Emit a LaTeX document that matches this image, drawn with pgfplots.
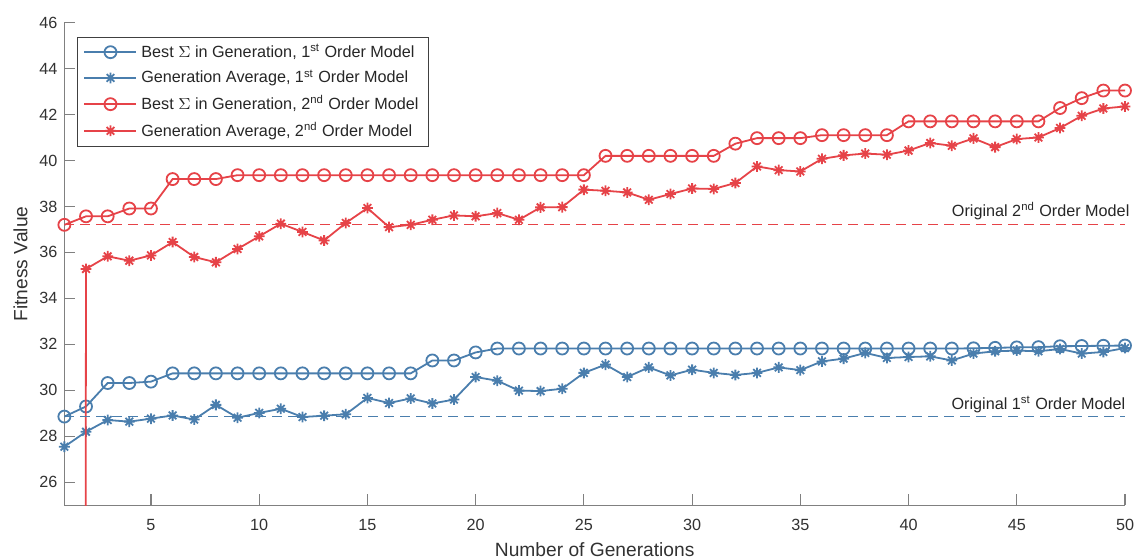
\documentclass[border=0pt]{standalone}
\usepackage{pgfplots}
\pgfplotsset{compat=1.18}
\usepackage{pgfplotstable}
\usetikzlibrary{calc}
\usepackage{fontspec}
\setmainfont{Liberation Sans}
\definecolor{mblue}{RGB}{74,126,173}
\definecolor{mred}{RGB}{230,67,72}
\definecolor{axgray}{RGB}{128,128,128}
\definecolor{txtgray}{RGB}{50,50,50}
\pgfdeclareplotmark{ast8}{%
  \pgfpathmoveto{\pgfqpoint{-\pgfplotmarksize}{0pt}}\pgfpathlineto{\pgfqpoint{\pgfplotmarksize}{0pt}}%
  \pgfpathmoveto{\pgfqpoint{0pt}{-\pgfplotmarksize}}\pgfpathlineto{\pgfqpoint{0pt}{\pgfplotmarksize}}%
  \pgfpathmoveto{\pgfqpoint{-0.7071\pgfplotmarksize}{-0.7071\pgfplotmarksize}}\pgfpathlineto{\pgfqpoint{0.7071\pgfplotmarksize}{0.7071\pgfplotmarksize}}%
  \pgfpathmoveto{\pgfqpoint{-0.7071\pgfplotmarksize}{0.7071\pgfplotmarksize}}\pgfpathlineto{\pgfqpoint{0.7071\pgfplotmarksize}{-0.7071\pgfplotmarksize}}%
  \pgfusepathqstroke}

\pgfplotstableread{
x y
1 28.86
2 29.30
3 30.32
4 30.32
5 30.38
6 30.74
7 30.74
8 30.74
9 30.74
10 30.74
11 30.74
12 30.74
13 30.74
14 30.74
15 30.74
16 30.74
17 30.74
18 31.30
19 31.30
20 31.65
21 31.82
22 31.82
23 31.82
24 31.82
25 31.82
26 31.82
27 31.82
28 31.82
29 31.82
30 31.82
31 31.82
32 31.82
33 31.82
34 31.82
35 31.82
36 31.82
37 31.82
38 31.82
39 31.82
40 31.82
41 31.82
42 31.82
43 31.83
44 31.85
45 31.87
46 31.88
47 31.92
48 31.93
49 31.94
50 31.95
}\bestone

\pgfplotstableread{
x y
1 27.55
2 28.20
3 28.71
4 28.64
5 28.77
6 28.91
7 28.73
8 29.37
9 28.81
10 29.02
11 29.20
12 28.84
13 28.90
14 28.96
15 29.67
16 29.45
17 29.65
18 29.43
19 29.60
20 30.58
21 30.42
22 29.99
23 29.97
24 30.07
25 30.76
26 31.12
27 30.58
28 31.00
29 30.65
30 30.90
31 30.76
32 30.67
33 30.76
34 31.00
35 30.88
36 31.26
37 31.38
38 31.63
39 31.41
40 31.45
41 31.48
42 31.30
43 31.60
44 31.70
45 31.73
46 31.70
47 31.80
48 31.60
49 31.67
50 31.84
}\avgone

\pgfplotstableread{
x y
1 37.20
2 37.57
3 37.57
4 37.91
5 37.91
6 39.19
7 39.19
8 39.19
9 39.36
10 39.36
11 39.36
12 39.36
13 39.36
14 39.36
15 39.36
16 39.36
17 39.36
18 39.36
19 39.36
20 39.36
21 39.36
22 39.36
23 39.36
24 39.36
25 39.36
26 40.20
27 40.20
28 40.20
29 40.20
30 40.20
31 40.20
32 40.73
33 40.97
34 40.97
35 40.97
36 41.10
37 41.10
38 41.10
39 41.10
40 41.70
41 41.70
42 41.70
43 41.70
44 41.70
45 41.70
46 41.70
47 42.28
48 42.71
49 43.04
50 43.04
}\besttwo

\pgfplotstableread{
x y
1 -600
2 35.28
3 35.83
4 35.64
5 35.87
6 36.45
7 35.80
8 35.57
9 36.15
10 36.70
11 37.25
12 36.89
13 36.52
14 37.28
15 37.93
16 37.10
17 37.20
18 37.42
19 37.61
20 37.57
21 37.71
22 37.42
23 37.96
24 37.97
25 38.73
26 38.68
27 38.61
28 38.29
29 38.54
30 38.78
31 38.76
32 39.02
33 39.74
34 39.58
35 39.52
36 40.07
37 40.22
38 40.30
39 40.25
40 40.43
41 40.76
42 40.64
43 40.96
44 40.58
45 40.93
46 41.00
47 41.41
48 41.94
49 42.26
50 42.35
}\avgtwo

\begin{document}
\begin{tikzpicture}
\begin{axis}[
  scale only axis, width=530.5pt, height=241.5pt,
  xmin=1, xmax=50, ymin=25, ymax=46,
  xtick={5,10,...,50}, ytick={26,28,...,46},
  axis x line*=bottom, axis y line*=left,
  axis line style={draw=axgray, -, line width=0.6pt},
  tick align=inside, major tick length=5.5pt,
  every tick/.style={axgray, line width=0.6pt},
  /pgf/number format/assume math mode=true,
  tick label style={font=\fontsize{8.1}{10}\selectfont, text=txtgray},
  xticklabel style={yshift=-3.5pt},
  xlabel={Number of Generations}, ylabel={Fitness Value},
  label style={font=\fontsize{9.6}{11}\selectfont, text=txtgray},
  xlabel style={yshift=1pt},
  ylabel style={yshift=-1pt},
  legend style={at={(0.012,0.971)}, anchor=north west, draw=black!75, fill=white,
    font=\fontsize{8.1}{9.5}\selectfont, text=black!85, inner xsep=3pt, inner ysep=1.6pt,
    row sep=0.9pt, line width=0.5pt},
  legend cell align=left,
  legend image code/.code={\draw[mark repeat=2,mark phase=2] plot coordinates {(0pt,0pt) (13pt,0pt) (26pt,0pt)};},
  clip=true, clip mode=individual,
]
\addplot[mblue, line width=0.9pt, mark=o, mark size=3pt, mark options={fill=white, solid}] table {\bestone};
\addlegendentry{Best $\Sigma$ in Generation, 1\textsuperscript{st} Order Model}
\addplot[mblue, line width=0.9pt, mark=ast8, mark size=2.7pt, mark options={solid}] table {\avgone};
\addlegendentry{Generation Average, 1\textsuperscript{st} Order Model}
\addplot[mred, line width=0.9pt, mark=o, mark size=3pt, mark options={fill=white, solid}] table {\besttwo};
\addlegendentry{Best $\Sigma$ in Generation, 2\textsuperscript{nd} Order Model}
\addplot[mred, line width=0.9pt, mark=ast8, mark size=2.7pt, mark options={solid}] table {\avgtwo};
\addlegendentry{Generation Average, 2\textsuperscript{nd} Order Model}
\addplot[mred, line width=0.6pt, dash pattern=on 5pt off 3pt, forget plot] coordinates {(1,37.22) (50,37.22)};
\addplot[mblue, line width=0.6pt, dash pattern=on 5pt off 3pt, forget plot] coordinates {(1,28.86) (50,28.86)};
\node[anchor=base east, inner sep=0pt, font=\fontsize{8.1}{10}\selectfont, text=black!85] at (axis cs:50.22,37.22) [yshift=4.1pt] {Original 2\textsuperscript{nd} Order Model};
\node[anchor=base east, inner sep=0pt, font=\fontsize{8.1}{10}\selectfont, text=black!85] at (axis cs:50.03,28.86) [yshift=3.5pt] {Original 1\textsuperscript{st} Order Model};
\coordinate (sw) at (rel axis cs:0,0);
\coordinate (ne) at (rel axis cs:1,1);
\end{axis}
\pgfresetboundingbox
\path[use as bounding box] ($(sw)+(-32.2pt,-27.15pt)$) rectangle ($(ne)+(6.5pt,11.35pt)$);
\end{tikzpicture}
\end{document}
